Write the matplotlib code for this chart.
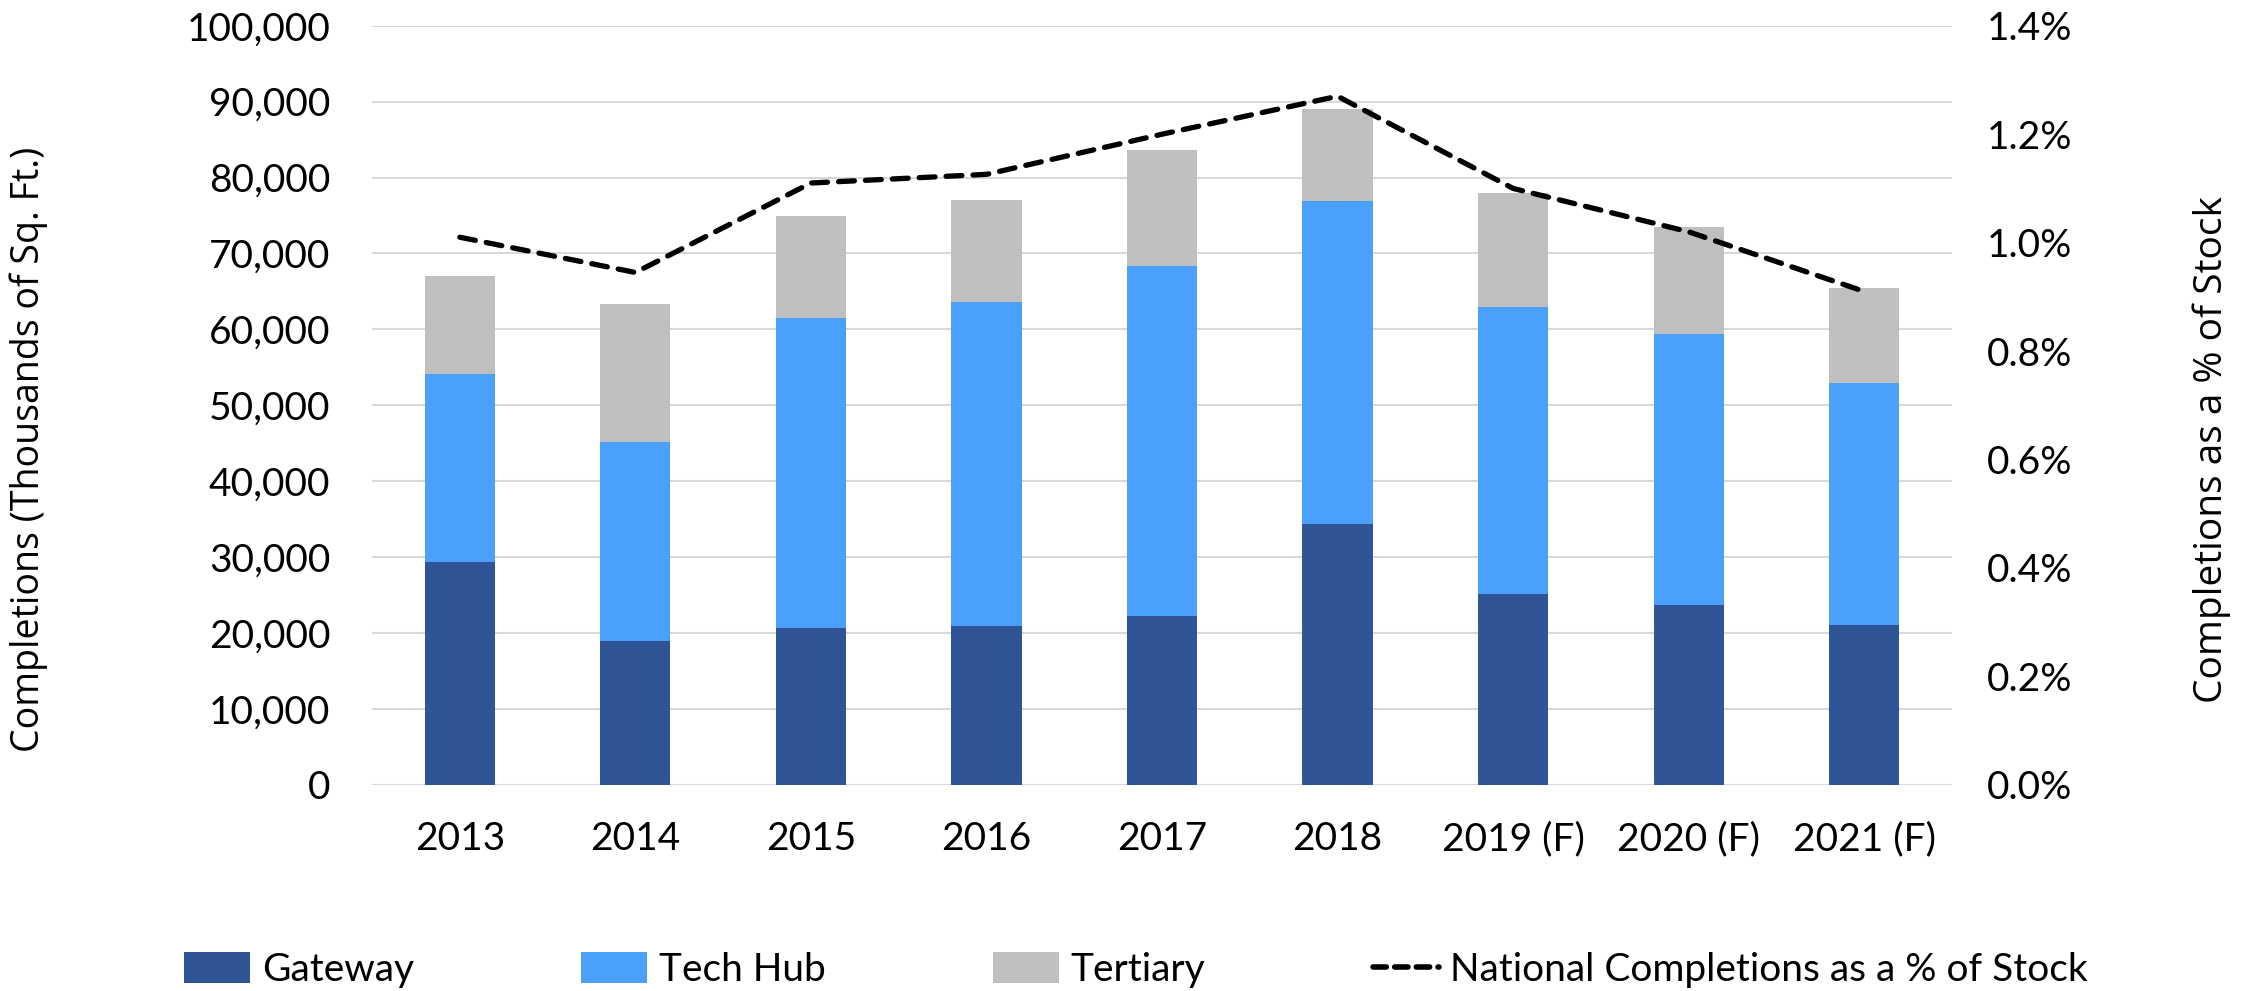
import matplotlib
matplotlib.use("Agg")
import matplotlib.pyplot as plt
import numpy as np
from matplotlib.ticker import FuncFormatter, MultipleLocator
from matplotlib.lines import Line2D
from matplotlib.patches import Patch

# Office completions by market tier (thousands of sq. ft.)
years = ["2013", "2014", "2015", "2016", "2017", "2018", "2019 (F)", "2020 (F)", "2021 (F)"]
gateway = [29400, 19000, 20600, 20900, 22300, 34300, 25200, 23700, 21100]
tech_hub = [24700, 26200, 40950, 42700, 46100, 42600, 37750, 35750, 31800]
tertiary = [13000, 18100, 13450, 13400, 15300, 12100, 15050, 14050, 12550]
# National completions as a share of stock (%)
pct_of_stock = [1.01, 0.945, 1.11, 1.126, 1.20, 1.27, 1.10, 1.02, 0.91]

c_gateway = "#2f5597"
c_tech = "#4aa0fa"
c_tert = "#bfbfbf"

tick_font = ["Lato", "DejaVu Sans"]
label_font = ["Open Sans", "DejaVu Sans"]

fig = plt.figure(figsize=(22.59, 9.91), dpi=100)
ax = fig.add_axes([0.1647, 0.208, 0.6994, 0.766])

x = np.arange(len(years))
w = 0.40
g = np.array(gateway)
t = np.array(tech_hub)
r = np.array(tertiary)
ax.bar(x, g, w, color=c_gateway, zorder=2)
ax.bar(x, t, w, bottom=g, color=c_tech, zorder=2)
ax.bar(x, r, w, bottom=g + t, color=c_tert, zorder=2)

ax.set_xlim(-0.5, len(years) - 0.5)
ax.set_ylim(0, 100000)
ax.yaxis.set_major_locator(MultipleLocator(10000))
ax.yaxis.set_major_formatter(FuncFormatter(lambda v, p: f"{int(v):,}"))
ax.grid(axis="y", color="#d9d9d9", linewidth=1.5, zorder=0)
ax.set_axisbelow(True)
for s in ax.spines.values():
    s.set_visible(False)
ax.tick_params(axis="both", length=0, labelsize=28)
ax.tick_params(axis="y", pad=30)
ax.tick_params(axis="x", pad=26)
ax.set_xticks(x)
ax.set_xticklabels(years)
for lbl in ax.get_xticklabels() + ax.get_yticklabels():
    lbl.set_family(tick_font)
ax.set_ylabel("Completions (Thousands of Sq. Ft.)", family=label_font, fontsize=27)
ax.yaxis.set_label_coords(-0.205, 0.442)

ax2 = ax.twinx()
ax2.set_position(ax.get_position())
ax2.plot(x, np.array(pct_of_stock) / 100, color="black", linewidth=3.8,
         linestyle=(0, (3.0, 2.1)), dash_capstyle="round", zorder=3)
ax2.set_ylim(0, 0.014)
ax2.yaxis.set_major_locator(MultipleLocator(0.002))
ax2.yaxis.set_major_formatter(FuncFormatter(lambda v, p: f"{v * 100:.1f}%"))
for s in ax2.spines.values():
    s.set_visible(False)
ax2.tick_params(axis="y", length=0, labelsize=28, pad=25)
for lbl in ax2.get_yticklabels():
    lbl.set_family(tick_font)
ax2.set_ylabel("Completions as a % of Stock", family=label_font, fontsize=28)
ax2.yaxis.set_label_coords(1.152, 0.442)

handles = [
    Patch(facecolor=c_gateway, label="Gateway"),
    Patch(facecolor=c_tech, label="Tech Hub"),
    Patch(facecolor=c_tert, label="Tertiary"),
    Line2D([0], [0], color="black", linewidth=4.0, linestyle=(0, (2.4, 1.5)),
           dash_capstyle="round", label="National Completions as a % of Stock"),
]
fig.legend(handles=handles, loc="center", bbox_to_anchor=(0.503, 0.021), ncol=4,
           frameon=False, prop={"family": tick_font, "size": 28},
           handlelength=1.7, handleheight=0.85, handletextpad=0.3, columnspacing=4.3)

fig.savefig("out.png", dpi=100)
